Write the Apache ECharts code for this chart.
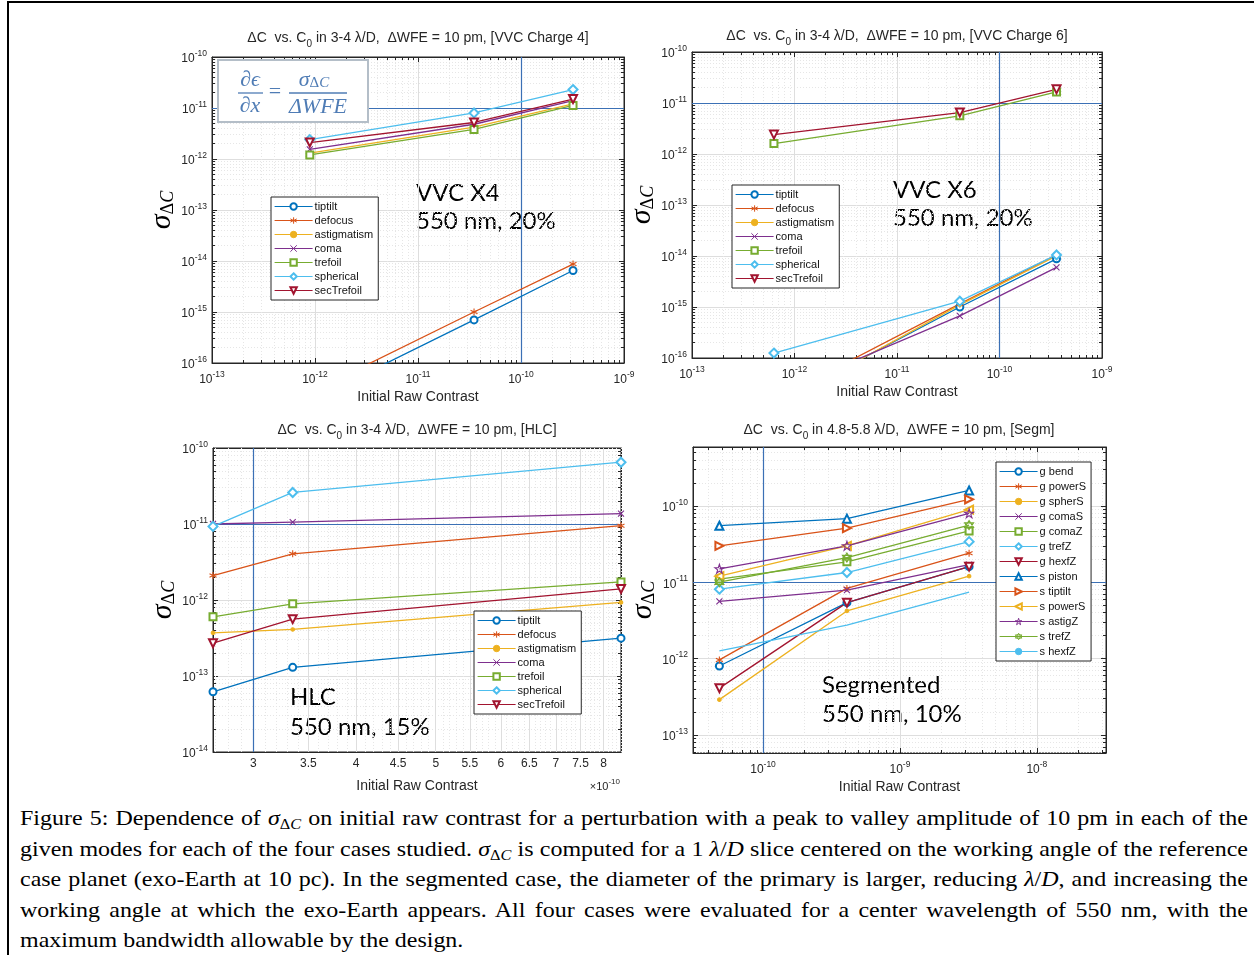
<!DOCTYPE html>
<html>
<head>
<meta charset="utf-8">
<script src="https://cdn.jsdelivr.net/npm/echarts@6/dist/echarts.min.js"></script>
<style>
  body { margin: 0; background: #fff; }
  #chart { position: absolute; left: 0; top: 0; width: 1254px; height: 800px; }
  #frameTop { position: absolute; left: 7px; top: 1px; width: 1247px; height: 2px; background: #000; }
  #frameLeft { position: absolute; left: 7px; top: 1px; width: 2px; height: 954px; background: #000; }
  #caption {
    position: absolute; left: 20px; top: 803px; width: 1228px;
    transform-origin: 0 0;
    font-family: 'Liberation Serif', serif; font-size: 22px; line-height: 30.5px; color: #000;
  }
  #caption .ln { text-align: justify; text-align-last: justify; }
  #caption .ln.last { text-align-last: left; }
  #caption i { font-style: italic; }
  #caption sub { font-size: 0.68em; vertical-align: -0.3em; line-height: 0; }
</style>
</head>
<body>
<div id="chart"></div>
<div id="frameTop"></div>
<div id="frameLeft"></div>
<div id="caption">
  <div class="ln">Figure 5: Dependence of <i>σ</i><sub>Δ<i>C</i></sub> on initial raw contrast for a perturbation with a peak to valley amplitude of 10 pm in each of the</div>
  <div class="ln">given modes for each of the four cases studied. <i>σ</i><sub>Δ<i>C</i></sub> is computed for a 1 <i>λ</i>/<i>D</i> slice centered on the working angle of the reference</div>
  <div class="ln">case planet (exo-Earth at 10 pc). In the segmented case, the diameter of the primary is larger, reducing <i>λ</i>/<i>D</i>, and increasing the</div>
  <div class="ln">working angle at which the exo-Earth appears. All four cases were evaluated for a center wavelength of 550 nm, with the</div>
  <div class="ln last">maximum bandwidth allowable by the design.</div>
</div>
<script>
// mode names and MATLAB marker codes, in legend order
const zernikeModes = ['tiptilt', 'defocus', 'astigmatism', 'coma', 'trefoil', 'spherical', 'secTrefoil'];
const zernikeMarkers = ['o', '*', '.', 'x', 's', 'd', 'v'];
const segModes = ['g bend', 'g powerS', 'g spherS', 'g comaS', 'g comaZ', 'g trefZ', 'g hexfZ',
  's piston', 's tiptilt', 's powerS', 's astigZ', 's trefZ', 's hexfZ'];
const segMarkers = ['o', '*', '.', 'x', 's', 'd', 'v', '^', '>', '<', 'p', 'h', ''];

// initial raw contrast (x) of each case
const vvc4Contrast = [8.9e-13, 3.5e-11, 3.2e-10];
const vvc6Contrast = [6.3e-13, 4.1e-11, 3.6e-10];
const hlcContrast = [2.68e-10, 3.35e-10, 8.4e-10];
const segContrast = [4.8e-11, 4.1e-10, 3.2e-9];

// sigma_dC, one row per mode
const vvc4Sigma = [
  [1.8e-17, 7.0e-16, 6.5e-15],
  [2.6e-17, 1.0e-15, 8.7e-15],
  [1.3e-12, 4.2e-12, 1.2e-11],
  [1.55e-12, 4.8e-12, 1.4e-11],
  [1.2e-12, 3.8e-12, 1.12e-11],
  [2.4e-12, 8.0e-12, 2.3e-11],
  [2.1e-12, 5.2e-12, 1.5e-11]
];
const vvc6Sigma = [
  [1.2e-17, 1.0e-15, 8.8e-15],
  [1.5e-17, 1.15e-15, 1.05e-14],
  [1.1e-17, 1.1e-15, 1.0e-14],
  [1.9e-17, 6.7e-16, 6.0e-15],
  [1.6e-12, 5.6e-12, 1.65e-11],
  [1.25e-16, 1.3e-15, 1.05e-14],
  [2.4e-12, 6.5e-12, 1.85e-11]
];
const hlcSigma = [
  [6.2e-14, 1.3e-13, 3.15e-13],
  [2.1e-12, 4.05e-12, 9.5e-12],
  [3.7e-13, 4.1e-13, 9.3e-13],
  [1.0e-11, 1.06e-11, 1.37e-11],
  [6.0e-13, 8.9e-13, 1.73e-12],
  [9.3e-12, 2.6e-11, 6.5e-11],
  [2.7e-13, 5.6e-13, 1.4e-12]
];
const segSigma = [
  [8.0e-13, 5.4e-12, 1.6e-11],
  [9.6e-13, 8.3e-12, 2.4e-11],
  [2.9e-13, 4.2e-12, 1.2e-11],
  [5.6e-12, 7.9e-12, 1.7e-11],
  [1.1e-11, 1.85e-11, 4.7e-11],
  [8.1e-12, 1.34e-11, 3.4e-11],
  [4.1e-13, 5.4e-12, 1.6e-11],
  [5.5e-11, 6.8e-11, 1.59e-10],
  [3.0e-11, 5.1e-11, 1.22e-10],
  [1.2e-11, 3.0e-11, 8.9e-11],
  [1.5e-11, 3.0e-11, 8.0e-11],
  [1.0e-11, 2.1e-11, 5.6e-11],
  [1.26e-12, 2.75e-12, 7.4e-12]
];

// HLC x tick labels (x 1e-10)
const hlcTicks = [3, 3.5, 4, 4.5, 5, 5.5, 6, 6.5, 7, 7.5, 8];

const SANS = 'Liberation Sans';
const INK = '#262626';
const REF = '#3b70b5';
const palette = ['#0072BD', '#D95319', '#EDB120', '#7E2F8E', '#77AC30', '#4DBEEE', '#A2142F'];

const star5 = 'M0,-1L0.2245,-0.309L0.951,-0.309L0.363,0.118L0.588,0.809L0,0.382L-0.588,0.809L-0.363,0.118L-0.951,-0.309L-0.2245,-0.309Z';
const star6 = 'M0,-1L0.866,0.5L-0.866,0.5ZM0,1L-0.866,-0.5L0.866,-0.5Z';
const markerDefs = {
  'o': { symbol: 'emptyCircle', size: 7 },
  '*': { symbol: 'path://M0,-1L0,1M-0.87,-0.5L0.87,0.5M-0.87,0.5L0.87,-0.5', size: 7, stroke: true },
  '.': { symbol: 'circle', size: 3.5 },
  'x': { symbol: 'path://M-1,-1L1,1M-1,1L1,-1', size: 6, stroke: true },
  's': { symbol: 'emptyRect', size: 7 },
  'd': { symbol: 'emptyDiamond', size: 9 },
  'v': { symbol: 'emptyTriangle', size: 8, rotate: 180 },
  '^': { symbol: 'emptyTriangle', size: 8 },
  '>': { symbol: 'emptyTriangle', size: 8, rotate: -90 },
  '<': { symbol: 'emptyTriangle', size: 8, rotate: 90 },
  'p': { symbol: 'path://' + star5, size: 9, stroke: true },
  'h': { symbol: 'path://' + star6, size: 9, stroke: true },
  '': { symbol: 'none', size: 0 }
};

const grids = [
  { left: 212, top: 57, width: 412, height: 306 },
  { left: 692, top: 52, width: 410, height: 306 },
  { left: 213, top: 448, width: 408, height: 304 },
  { left: 693, top: 447, width: 413, height: 306 }
];

function powLabel(v) {
  const e = Math.round(Math.log10(v));
  if (Math.abs(v / Math.pow(10, e) - 1) > 1e-6) return '';
  return '{b|10}{sup|' + e + '}';
}
const tickRich = {
  b: { fontFamily: SANS, fontSize: 12, color: INK, lineHeight: 16, verticalAlign: 'bottom' },
  sup: { fontFamily: SANS, fontSize: 8.5, color: INK, lineHeight: 9, verticalAlign: 'top' }
};

function logAxis(i, min, max, isX, mirror, plain) {
  return {
    type: 'log', logBase: 10, gridIndex: i, min: min, max: max,
    position: isX ? (mirror ? 'top' : 'bottom') : (mirror ? 'right' : 'left'),
    axisLine: { show: true, onZero: false, lineStyle: { color: INK, width: 1 } },
    axisTick: { show: !plain, inside: true, length: 5, lineStyle: { color: INK } },
    minorTick: { show: !plain, splitNumber: 9, length: 3, lineStyle: { color: INK } },
    axisLabel: {
      show: !mirror && !plain, formatter: powLabel, rich: tickRich,
      margin: isX ? 7 : 5
    },
    splitLine: { show: !mirror && !plain, lineStyle: { color: '#dedede', width: 1 } },
    minorSplitLine: { show: !mirror && !plain, lineStyle: { color: '#e6e6e6', type: [1, 2], width: 1 } },
    name: mirror ? '' : (isX ? 'Initial Raw Contrast' : '{s|σ}{sub|Δ}{subi|C}'),
    nameLocation: 'middle',
    nameGap: isX ? 27 : 30,
    nameRotate: isX ? 0 : 90,
    nameTextStyle: isX ? { fontFamily: SANS, fontSize: 14, color: INK } : {
      rich: {
        s: { fontFamily: 'Liberation Serif', fontStyle: 'italic', fontSize: 30, color: '#000', lineHeight: 30, verticalAlign: 'top' },
        sub: { fontFamily: 'Liberation Serif', fontSize: 18, color: '#000', lineHeight: 16, verticalAlign: 'bottom' },
        subi: { fontFamily: 'Liberation Serif', fontStyle: 'italic', fontSize: 18, color: '#000', lineHeight: 16, verticalAlign: 'bottom' }
      }
    }
  };
}

const xLimits = [[1e-13, 1e-9], [1e-13, 1e-9], [2.68e-10, 8.4e-10], [3.08e-11, 3.2e-8]];
const yLimits = [[1e-16, 1e-10], [1e-16, 1e-10], [1e-14, 1e-10], [5.8e-14, 5.9e-10]];

const xAxes = [], yAxes = [];
for (let i = 0; i < 4; i++) {
  const plainX = i === 2;
  const ax = logAxis(i, xLimits[i][0], xLimits[i][1], true, false, plainX);
  if (plainX) { ax.axisLabel.show = false; ax.name = 'Initial Raw Contrast'; }
  xAxes.push(ax);
  yAxes.push(logAxis(i, yLimits[i][0], yLimits[i][1], false, false, false));
}
for (let i = 0; i < 4; i++) {
  xAxes.push(logAxis(i, xLimits[i][0], xLimits[i][1], true, true, i === 2));
  yAxes.push(logAxis(i, yLimits[i][0], yLimits[i][1], false, true, false));
}

function modeSeries(i, names, markers, xs, rows) {
  return names.map((name, k) => {
    const c = palette[k % palette.length];
    const m = markerDefs[markers[k]];
    return {
      type: 'line', name: name, xAxisIndex: i, yAxisIndex: i,
      data: xs.map((x, j) => [x, rows[k][j]]),
      color: c, clip: true, animation: false, z: 3,
      symbol: m.symbol, symbolSize: m.size, symbolRotate: m.rotate || 0,
      showSymbol: m.symbol !== 'none',
      lineStyle: { color: c, width: 1.3 },
      itemStyle: m.stroke ? { color: 'rgba(255,255,255,0)', borderColor: c, borderWidth: 1.1 }
        : { color: c, borderColor: c, borderWidth: 1.1 },
      emphasis: { disabled: true }
    };
  });
}

// marker lines need full precision on these tiny log values
function markLines(items, z) {
  return { silent: true, symbol: 'none', animation: false, precision: 20, z: z, label: { show: false }, data: items };
}
const refStyle = { color: REF, width: 1.2, type: 'solid' };
function refLines(xLine) {
  return [{ yAxis: 1e-11, lineStyle: refStyle }, { xAxis: xLine, lineStyle: refStyle }];
}

// grid lines and tick labels of the HLC contrast axis
const hlcGridData = [];
hlcTicks.forEach(t => hlcGridData.push({
  xAxis: t * 1e-10,
  lineStyle: { color: '#dedede', type: 'solid', width: 1 },
  label: { show: true, position: 'start', formatter: String(t), color: INK, fontFamily: SANS, fontSize: 12, distance: 6 }
}));
for (let k = 27; k <= 84; k++) {
  if (k % 5 === 0) continue;
  hlcGridData.push({ xAxis: k * 1e-11, lineStyle: { color: '#e6e6e6', type: [1, 2], width: 1 }, label: { show: false } });
}

const vvc4Series = modeSeries(0, zernikeModes, zernikeMarkers, vvc4Contrast, vvc4Sigma);
const vvc6Series = modeSeries(1, zernikeModes, zernikeMarkers, vvc6Contrast, vvc6Sigma);
const hlcSeries = modeSeries(2, zernikeModes, zernikeMarkers, hlcContrast, hlcSigma);
const segSeries = modeSeries(3, segModes, segMarkers, segContrast, segSigma);
vvc4Series[0].markLine = markLines(refLines(1e-10), 2);
vvc6Series[0].markLine = markLines(refLines(1e-10), 2);
hlcSeries[0].markLine = markLines(refLines(3e-10), 2);
hlcSeries[1].markLine = markLines(hlcGridData, 1);
segSeries[0].markLine = markLines(refLines(1e-10), 2);

const series = [...vvc4Series, ...vvc6Series, ...hlcSeries, ...segSeries];

function legendAt(left, top, names, gap) {
  return {
    orient: 'vertical', left: left, top: top, data: names, selectedMode: false, z: 8,
    backgroundColor: '#fff', borderColor: INK, borderWidth: 1, borderRadius: 0,
    padding: [4, 5, 4, 3], itemGap: gap, itemWidth: 38, itemHeight: 8,
    itemStyle: { borderWidth: 1 }, lineStyle: { width: 1.2 },
    textStyle: { fontFamily: SANS, fontSize: 11, color: '#111', padding: [0, 0, 0, -3] }
  };
}

function titleText(x, y, tail) {
  return {
    type: 'text', x: x, y: y, silent: true,
    style: {
      text: '{t|ΔC  vs. C}{sub|0}{t| in ' + tail + '}',
      textAlign: 'center', textVerticalAlign: 'middle',
      rich: {
        t: { fontFamily: SANS, fontSize: 14, fill: INK, lineHeight: 18, verticalAlign: 'top' },
        sub: { fontFamily: SANS, fontSize: 10, fill: INK, lineHeight: 9, verticalAlign: 'bottom' }
      }
    }
  };
}
function note(x, y, text) {
  return {
    type: 'text', x: x, y: y, silent: true,
    style: { text: text, fill: '#000', font: '24px Lato', textVerticalAlign: 'middle' }
  };
}
const EQ = '#4f7cb5';
function eqText(x, y, text, italic) {
  return {
    type: 'text', x: x, y: y, silent: true, z: 11,
    style: { text: text, fill: EQ, font: (italic ? 'italic ' : '') + '22px "Liberation Serif"', textAlign: 'center', textVerticalAlign: 'middle' }
  };
}

const graphic = [
  titleText(418, 40, '3-4 λ/D,  ΔWFE = 10 pm, [VVC Charge 4]'),
  titleText(897, 38, '3-4 λ/D,  ΔWFE = 10 pm, [VVC Charge 6]'),
  titleText(417, 432, '3-4 λ/D,  ΔWFE = 10 pm, [HLC]'),
  titleText(899, 432, '4.8-5.8 λ/D,  ΔWFE = 10 pm, [Segm]'),
  note(416, 193, 'VVC X4'), note(416, 221, '550 nm, 20%'),
  note(893, 190, 'VVC X6'), note(893, 218, '550 nm, 20%'),
  note(290, 697, 'HLC'), note(290, 727, '550 nm, 15%'),
  note(822, 685, 'Segmented'), note(822, 714, '550 nm, 10%'),
  {
    type: 'text', x: 620, y: 785, silent: true,
    style: {
      text: '{b|×10}{sup|-10}', textAlign: 'right', textVerticalAlign: 'middle',
      rich: {
        b: { fontFamily: SANS, fontSize: 11, fill: INK, lineHeight: 15, verticalAlign: 'bottom' },
        sup: { fontFamily: SANS, fontSize: 8, fill: INK, lineHeight: 8, verticalAlign: 'top' }
      }
    }
  },
  // equation box in the VVC4 panel
  { type: 'rect', silent: true, z: 10, shape: { x: 218, y: 60, width: 150, height: 62 }, style: { fill: '#fff', stroke: '#b4bec8', lineWidth: 2 } },
  eqText(250, 80, '∂ϵ', true),
  { type: 'line', silent: true, z: 11, shape: { x1: 238, y1: 93, x2: 263, y2: 93 }, style: { stroke: EQ, lineWidth: 1.3 } },
  eqText(250, 106, '∂x', true),
  eqText(275, 92, '=', false),
  {
    type: 'text', x: 314, y: 80, silent: true, z: 11,
    style: {
      text: '{s|σ}{sub|Δ}{subi|C}', textAlign: 'center', textVerticalAlign: 'middle',
      rich: {
        s: { fontFamily: 'Liberation Serif', fontStyle: 'italic', fontSize: 22, fill: EQ, lineHeight: 22, verticalAlign: 'top' },
        sub: { fontFamily: 'Liberation Serif', fontSize: 15, fill: EQ, lineHeight: 14, verticalAlign: 'bottom' },
        subi: { fontFamily: 'Liberation Serif', fontStyle: 'italic', fontSize: 15, fill: EQ, lineHeight: 14, verticalAlign: 'bottom' }
      }
    }
  },
  { type: 'line', silent: true, z: 11, shape: { x1: 289, y1: 93, x2: 347, y2: 93 }, style: { stroke: EQ, lineWidth: 1.3 } },
  eqText(318, 107, 'ΔWFE', true)
];

const chart = echarts.init(document.getElementById('chart'), null, { renderer: 'canvas' });
chart.setOption({
  backgroundColor: '#fff',
  animation: false,
  textStyle: { fontFamily: SANS },
  grid: grids.map(g => Object.assign({ show: true, backgroundColor: '#fff', borderColor: INK, borderWidth: 1, outerBoundsMode: 'none', containLabel: false }, g)),
  xAxis: xAxes,
  yAxis: yAxes,
  legend: [
    legendAt(271, 197, zernikeModes, 3),
    legendAt(732, 185, zernikeModes, 3),
    legendAt(474, 611, zernikeModes, 3),
    legendAt(996, 462, segModes, 4)
  ],
  tooltip: { show: false },
  series: series,
  graphic: graphic
});

// fit the caption: the longest line sets the scale, the others are justified to it
const cap = document.getElementById('caption');
let widest = 0;
Array.from(cap.querySelectorAll('.ln')).forEach(ln => {
  const probe = document.createElement('span');
  probe.style.whiteSpace = 'nowrap';
  probe.innerHTML = ln.innerHTML;
  cap.appendChild(probe);
  widest = Math.max(widest, probe.getBoundingClientRect().width);
  cap.removeChild(probe);
});
const fit = 1228 / (widest + 4);
cap.style.width = (widest + 4) + 'px';
cap.style.transform = 'scaleX(' + fit + ')';
</script>
</body>
</html>
